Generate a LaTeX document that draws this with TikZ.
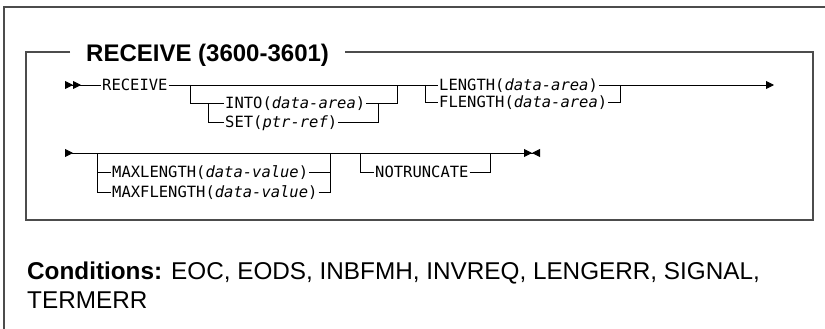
\documentclass[tikz,border=0pt]{standalone}
\usepackage{fontspec}
\setmainfont{Liberation Sans}
\newfontfamily\synfont{DejaVu Sans Mono}[ItalicFont={DejaVu Sans Mono Oblique}]
\usetikzlibrary{arrows.meta,positioning}
\newcommand{\synvar}[1]{\textit{#1}}

\tikzset{
  kw/.style={font=\synfont\fontsize{15.5}{15.5}\selectfont, inner xsep=1pt, inner ysep=0pt,
             text height=11.5pt, text depth=0pt, anchor=west},
  rail/.style={line width=0.9pt},
  frame/.style={line width=1.3pt, black!70},
  tri/.tip={Triangle[length=8pt,width=8pt]},
  rtri/.tip={Triangle[reversed,length=8pt,width=8pt]}
}

\begin{document}
\begin{tikzpicture}[x=1pt,y=-1pt]
  \useasboundingbox (0,0) rectangle (825,329);
  % frames
  \draw[frame] (4,329) -- (4,7) -- (825,7);
  \node[font=\bfseries\fontsize{24}{24}\selectfont, anchor=base west, inner sep=0pt] (title) at (86,62) {RECEIVE (3600-3601)};
  \draw[frame] (70,52) -- (26,52) -- (26,220) -- (813,220) -- (813,52) -- (345,52);

  % first row
  \coordinate (in1) at (65,85);
  \coordinate (out1) at (774,85);
  \node[kw] (receive) at (101,85) {RECEIVE};
  \node[kw] (into) at (224,103) {INTO(\synvar{data-area})};
  \node[kw] (set) at (224,122) {SET(\synvar{ptr-ref})};
  \node[kw] (length) at (438,85) {LENGTH(\synvar{data-area})};
  \node[kw] (flength) at (438,102) {FLENGTH(\synvar{data-area})};
  \coordinate (optA) at (190,85);
  \coordinate (optB) at (397,85);
  \coordinate (selA) at (208,103);
  \coordinate (selB) at (378,103);
  \coordinate (lenA) at (425,85);
  \coordinate (lenB) at (620,85);

  \draw[rail, {rtri[]rtri[]}-] (in1) -- (receive.west);
  \draw[rail] (receive.east) -- (length.west);
  \draw[rail, -{tri[]}] (length.east) -- (out1);
  \draw[rail] (optA) |- (into.west);
  \draw[rail] (into.east) -| (optB);
  \draw[rail] (selA) |- (set.west);
  \draw[rail] (set.east) -| (selB);
  \draw[rail] (lenA) |- (flength.west);
  \draw[rail] (flength.east) -| (lenB);

  % second row
  \coordinate (in2) at (65,153);
  \coordinate (out2) at (540,153);
  \node[kw] (maxlength) at (111,172) {MAXLENGTH(\synvar{data-value})};
  \node[kw] (maxflength) at (111,192) {MAXFLENGTH(\synvar{data-value})};
  \node[kw] (notrunc) at (374,172) {NOTRUNCATE};
  \coordinate (maxA) at (97,153);
  \coordinate (maxB) at (330,153);
  \coordinate (ntA) at (360,153);
  \coordinate (ntB) at (490,153);

  \draw[rail, {rtri[]}-{tri[] rtri[]}] (in2) -- (out2);
  \draw[rail] (maxA) |- (maxflength.west);
  \draw[rail] (maxlength.west -| maxA) -- (maxlength.west);
  \draw[rail] (maxlength.east) -- (maxlength.east -| maxB);
  \draw[rail] (maxflength.east) -| (maxB);
  \draw[rail] (ntA) |- (notrunc.west);
  \draw[rail] (notrunc.east) -| (ntB);

  % conditions
  \node[anchor=base west, inner sep=0pt, font=\fontsize{24.3}{29}\selectfont] (cond) at (27,279)
    {\textbf{Conditions:} EOC, EODS, INBFMH, INVREQ, LENGERR, SIGNAL,};
  \node[anchor=base west, inner sep=0pt, font=\fontsize{24.3}{29}\selectfont] (cond2) at (27,308) {TERMERR};
\end{tikzpicture}
\end{document}
